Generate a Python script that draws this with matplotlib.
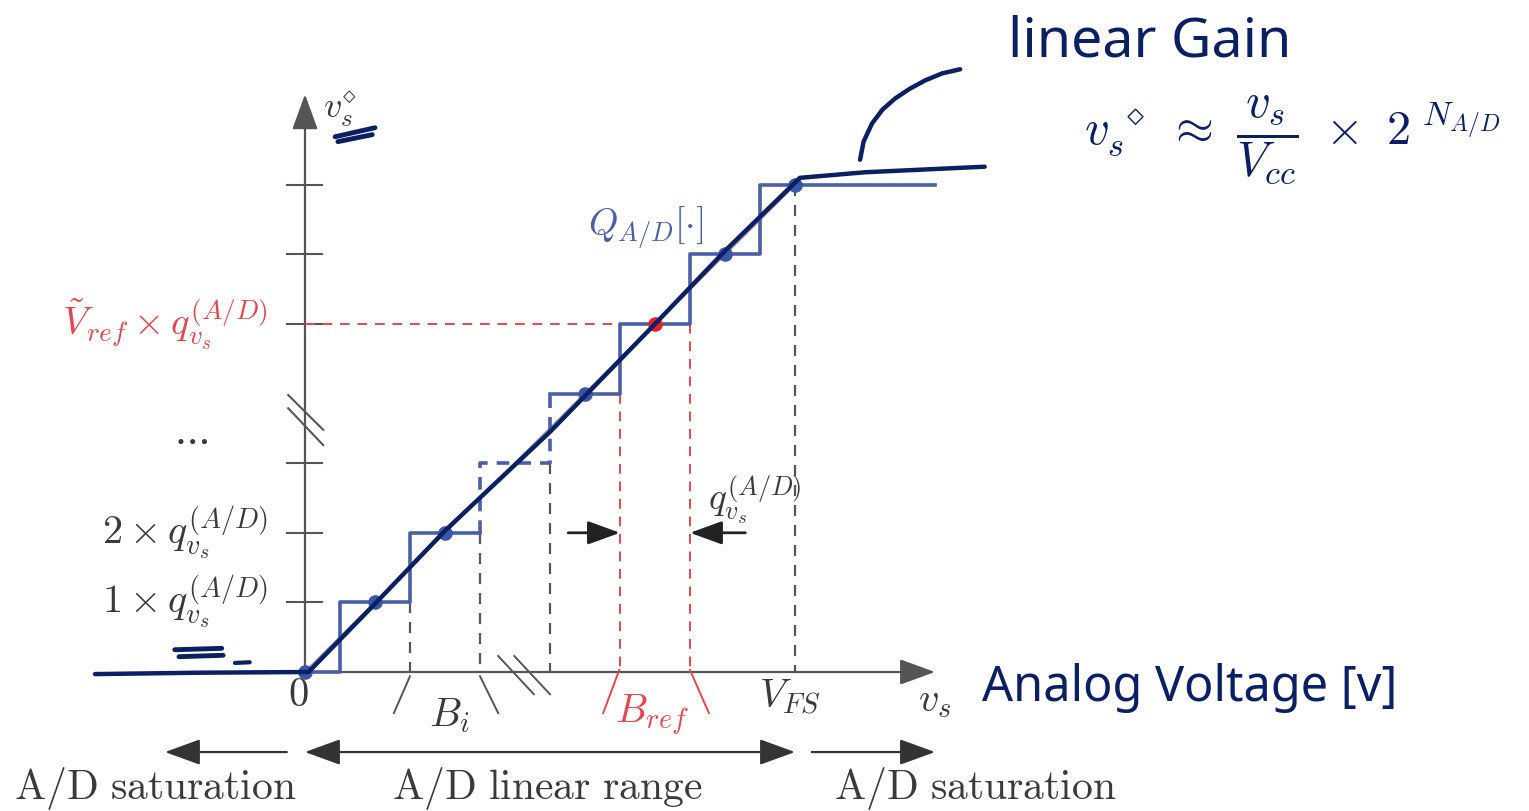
import matplotlib
matplotlib.use("Agg")
import matplotlib.pyplot as plt
from matplotlib.patches import FancyArrowPatch

plt.rcParams["mathtext.fontset"] = "cm"

# quantizer staircase (x in LSB steps, y in output levels)
stair_lo_x = [0, 0.5, 1.5, 2.5]
stair_lo_y = [0, 1, 2, 2]
stair_mid_x = [2.5, 2.5, 3.5, 3.5]
stair_mid_y = [2, 3, 3, 4]
stair_hi_x = [3.5, 4.5, 5.5, 6.5, 9.0]
stair_hi_y = [4, 5, 6, 7, 7]

dot_x = [0, 1, 2, 4, 6, 7]
dot_y = [0, 1, 2, 4, 6, 7]
ref_dot = (5, 5)

ytick_levels = [1, 2, 3, 5, 6, 7]
gray_drop_x = [1.5, 2.5, 3.5, 7.0]
gray_drop_top = [1, 2, 3, 7]
red_drop_x = [4.5, 5.5]
red_level = 5

# handwritten strokes
hand_diag_x = [-3.0, -1.5, 0.05, 1.0, 2.0, 3.5, 5.0, 6.0, 7.07, 8.0, 9.71]
hand_diag_y = [-0.03, -0.01, 0.0, 0.98, 2.03, 3.45, 5.0, 6.05, 7.1, 7.18, 7.26]
hand_curve_x = [7.93, 7.98, 8.1, 8.25, 8.43, 8.64, 8.86, 9.1, 9.36]
hand_curve_y = [7.36, 7.62, 7.88, 8.08, 8.24, 8.38, 8.5, 8.6, 8.66]

GRAY = "#555555"
TXT = "#3a3a3a"
RED = "#de4a4f"
BLUE = "#4a5fa6"
NAVY = "#0b2062"

fig = plt.figure(figsize=(15.29, 8.11), dpi=100)
ax = fig.add_axes([0, 0, 1, 1])
ax.set_xlim(-4.357, 17.486)
ax.set_ylim(-1.997, 9.655)
ax.axis("off")

def arrow(x0, y0, x1, y1, style="-|>", color=GRAY, lw=1.6, ms=20):
    ax.add_patch(FancyArrowPatch((x0, y0), (x1, y1),
                                 arrowstyle=style + ",head_length=1.1,head_width=0.4",
                                 mutation_scale=ms, color=color, lw=lw,
                                 shrinkA=0, shrinkB=0))

# axes
arrow(0, -0.05, 0, 8.3)
arrow(-0.3, 0, 9.0, 0)
for lv in ytick_levels:
    ax.plot([-0.25, 0.25], [lv, lv], color=GRAY, lw=1.5)
ax.plot([-0.24, 0.26], [3.98, 3.48], color=GRAY, lw=1.5)
ax.plot([-0.24, 0.26], [3.79, 3.26], color=GRAY, lw=1.5)

# dashed drops
for x, top in zip(gray_drop_x, gray_drop_top):
    ax.plot([x, x], [top, 0], color=GRAY, lw=1.6, ls=(0, (5, 4)))
for x in red_drop_x:
    ax.plot([x, x], [red_level, 0], color=RED, lw=1.4, ls=(0, (5, 4)))
ax.plot([0, 4.5], [red_level, red_level], color=RED, lw=1.4, ls=(0, (5, 4)))

# slashes under x axis
ax.plot([1.27, 1.5], [-0.59, -0.06], color=GRAY, lw=1.4)
ax.plot([2.5, 2.76], [-0.06, -0.59], color=GRAY, lw=1.4)
ax.plot([2.76, 3.27], [0.23, -0.32], color=GRAY, lw=1.4)
ax.plot([2.99, 3.5], [0.23, -0.32], color=GRAY, lw=1.4)
ax.plot([4.49, 4.26], [0.03, -0.59], color=RED, lw=1.4)
ax.plot([5.5, 5.77], [0.03, -0.59], color=RED, lw=1.4)

# ideal gain line + staircase
ax.plot([0, 7], [0, 7], color="#9a9a9a", lw=1.8)
ax.step(stair_lo_x, stair_lo_y, where="post", color=BLUE, lw=2.6)
ax.plot(stair_mid_x, stair_mid_y, color=BLUE, lw=2.6, ls=(0, (3.5, 2.5)))
ax.step(stair_hi_x, stair_hi_y, where="post", color=BLUE, lw=2.6)
ax.scatter(dot_x, dot_y, s=90, color="#3b55a8", zorder=5)
ax.scatter([ref_dot[0]], [ref_dot[1]], s=90, color="#e8202a", zorder=5)

# q arrows
arrow(3.76, 2.0, 4.5, 2.0, color="#222222", lw=2.0, ms=18)
arrow(6.29, 2.0, 5.5, 2.0, color="#222222", lw=2.0, ms=18)

# range arrows
arrow(-0.26, -1.15, -2.0, -1.15, color="#333333", lw=1.6)
arrow(0, -1.15, 7.0, -1.15, style="<|-|>", color="#333333", lw=1.6)
arrow(7.24, -1.15, 9.0, -1.15, color="#333333", lw=1.6)

# labels
fs = 26
lfs = 29
ax.text(-0.53, 5.0, r"$\tilde{V}_{ref}\times q_{v_s}^{(A/D)}$", color=RED, fontsize=28,
        ha="right", va="center")
ax.text(-0.53, 2.0, r"$2\times q_{v_s}^{(A/D)}$", color=TXT, fontsize=lfs, ha="right", va="center")
ax.text(-0.53, 1.0, r"$1\times q_{v_s}^{(A/D)}$", color=TXT, fontsize=lfs, ha="right", va="center")
ax.text(-1.64, 3.33, r"$\cdots$", color=TXT, fontsize=lfs, ha="center", va="center")
ax.text(0.5, 8.07, r"$v_s^{\diamond}$", color=TXT, fontsize=fs, ha="center", va="center")
ax.text(4.86, 6.38, r"$Q_{A/D}[\cdot]$", color=BLUE, fontsize=27, ha="center", va="center")
ax.text(6.43, 2.47, r"$q_{v_s}^{(A/D)}$", color=TXT, fontsize=27, ha="center", va="center")
ax.text(-0.1, -0.33, r"$0$", color=TXT, fontsize=lfs, ha="center", va="center")
ax.text(2.07, -0.62, r"$B_i$", color=TXT, fontsize=lfs, ha="center", va="center")
ax.text(4.96, -0.62, r"$B_{ref}$", color=RED, fontsize=lfs, ha="center", va="center")
ax.text(6.93, -0.36, r"$V_{FS}$", color=TXT, fontsize=lfs, ha="center", va="center")
ax.text(9.0, -0.4, r"$v_s$", color=TXT, fontsize=lfs, ha="center", va="center")
ax.text(-2.14, -1.68, r"$\mathrm{A/D\ saturation}$", color=TXT, fontsize=30, ha="center", va="center")
ax.text(3.46, -1.68, r"$\mathrm{A/D\ linear\ range}$", color=TXT, fontsize=30, ha="center", va="center")
ax.text(9.57, -1.68, r"$\mathrm{A/D\ saturation}$", color=TXT, fontsize=30, ha="center", va="center")

# handwritten annotations
ax.plot(hand_diag_x, hand_diag_y, color=NAVY, lw=3.2, solid_capstyle="round", zorder=6)
ax.plot(hand_curve_x, hand_curve_y, color=NAVY, lw=3.2, solid_capstyle="round", zorder=6)
ax.plot([0.43, 1.0], [7.69, 7.82], color=NAVY, lw=3.5, solid_capstyle="round")
ax.plot([0.47, 0.96], [7.62, 7.72], color=NAVY, lw=3.5, solid_capstyle="round")
ax.plot([-1.86, -1.19], [0.32, 0.34], color=NAVY, lw=3.5, solid_capstyle="round")
ax.plot([-1.8, -1.17], [0.22, 0.24], color=NAVY, lw=3.5, solid_capstyle="round")
ax.plot([-1.0, -0.79], [0.13, 0.14], color=NAVY, lw=3.0, solid_capstyle="round")

ax.text(12.07, 9.05, "linear Gain", color=NAVY, fontsize=40, ha="center", va="center",
        family="Noto Sans")
ax.text(14.1, 7.65,
        r"$v_s^{\ \diamond}\ \approx\ \dfrac{v_s}{V_{cc}}\ \times\ 2^{\ N_{A/D}}$",
        color=NAVY, fontsize=35, ha="center", va="center")
ax.text(12.64, -0.23, "Analog Voltage [v]", color=NAVY, fontsize=35, ha="center", va="center",
        family="Noto Sans")

fig.savefig("out.png", dpi=100)
